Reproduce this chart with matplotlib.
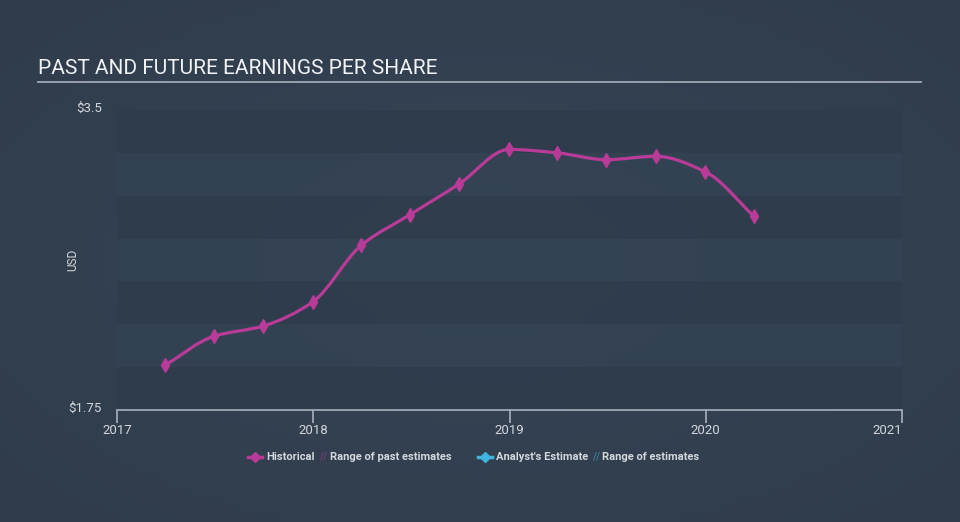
import numpy as np
import pandas as pd
import matplotlib
matplotlib.use('Agg')
import matplotlib.pyplot as plt
from matplotlib.path import Path
from matplotlib.patches import PathPatch
from matplotlib.lines import Line2D

# quarterly EPS (USD)
dates = ['2017-03-31', '2017-06-30', '2017-09-30', '2017-12-31',
         '2018-03-31', '2018-06-30', '2018-09-30', '2018-12-31',
         '2019-03-31', '2019-06-30', '2019-09-30', '2019-12-31',
         '2020-03-31']
eps = [2.01, 2.18, 2.24, 2.38, 2.71, 2.89, 3.07, 3.27, 3.25, 3.21, 3.23, 3.14, 2.88]

year_ticks = [2017, 2018, 2019, 2020, 2021]

bg = '#333f4f'
band_dark = '#2f3c4c'
band_light = '#344354'
hist_color = '#b83b98'
est_color = '#3fb5e0'
text_color = '#d3d7dc'
plt.rcParams['font.family'] = ['Roboto', 'DejaVu Sans']


def to_year(d):
    ts = pd.Timestamp(d)
    start = pd.Timestamp(year=ts.year, month=1, day=1)
    end = pd.Timestamp(year=ts.year + 1, month=1, day=1)
    return ts.year + (ts - start) / (end - start)


x = np.array([to_year(d) for d in dates])
y = np.array(eps)

fig = plt.figure(figsize=(9.6, 5.22), dpi=100, facecolor=bg)

# soft radial background
bgax = fig.add_axes([0, 0, 1, 1], zorder=-10)
gx, gy = np.meshgrid(np.linspace(-1, 1, 200), np.linspace(-1, 1, 110))
r = np.clip(np.sqrt(gx ** 2 + gy ** 2) / 1.4, 0, 1)
c0 = np.array([0x36, 0x45, 0x57]) / 255
c1 = np.array([0x30, 0x3c, 0x4b]) / 255
img = c0[None, None, :] * (1 - r[..., None]) + c1[None, None, :] * r[..., None]
bgax.imshow(img, aspect='auto', extent=[0, 1, 0, 1])
bgax.set_axis_off()

ax = fig.add_axes([117 / 960, 1 - 410 / 522, 785 / 960, 300 / 522])
ax.patch.set_alpha(0)
ax.set_xlim(2017, 2021)
ax.set_ylim(1.75, 3.5)

# horizontal stripes
edges = np.linspace(1.75, 3.5, 8)
for i in range(7):
    col = band_dark if i % 2 == 0 else band_light
    ax.axhspan(edges[i], edges[i + 1], color=col, lw=0, zorder=0, alpha=0.85)

# monotone cubic curve through the points (drawn as bezier segments)
h = np.diff(x)
d = np.diff(y) / h
m = np.zeros(len(x))
m[0], m[-1] = d[0], d[-1]
for i in range(1, len(x) - 1):
    if d[i - 1] * d[i] <= 0:
        m[i] = 0
    else:
        w1 = 2 * h[i] + h[i - 1]
        w2 = h[i] + 2 * h[i - 1]
        m[i] = (w1 + w2) / (w1 / d[i - 1] + w2 / d[i])
verts = [(x[0], y[0])]
codes = [Path.MOVETO]
for i in range(len(x) - 1):
    verts += [(x[i] + h[i] / 3, y[i] + m[i] * h[i] / 3),
              (x[i + 1] - h[i] / 3, y[i + 1] - m[i + 1] * h[i] / 3),
              (x[i + 1], y[i + 1])]
    codes += [Path.CURVE4] * 3
ax.add_patch(PathPatch(Path(verts, codes), fc='none', ec=hist_color, lw=2.3, zorder=3,
                       capstyle='round', joinstyle='round'))
ax.plot(x, y, ls='none', marker='d', ms=7, color=hist_color, mec=hist_color, zorder=4)

for s in ['top', 'right', 'left']:
    ax.spines[s].set_visible(False)
ax.spines['bottom'].set_color('#a9b2bd')
ax.spines['bottom'].set_linewidth(1.2)
ax.set_xticks(year_ticks)
ax.set_xticklabels([str(t) for t in year_ticks])
ax.get_xticklabels()[-1].set_horizontalalignment('right')
ax.tick_params(axis='x', colors='#a9b2bd', length=9, width=1.2, labelcolor=text_color,
               labelsize=9.5, pad=1)
ax.set_yticks([])

# y labels
fig.text(102 / 960, 1 - 108 / 522, '$3.5', ha='right', va='center', color=text_color, fontsize=9.5)
fig.text(102 / 960, 1 - 408 / 522, '$1.75', ha='right', va='center', color=text_color, fontsize=9.5)
fig.text(73 / 960, 1 - 260 / 522, 'USD', rotation=90, ha='center', va='center',
         color=text_color, fontsize=8.5)

# title and rule
fig.text(38 / 960, 1 - 69 / 522, 'PAST AND FUTURE EARNINGS PER SHARE', ha='left', va='center',
         color='#f0f2f4', fontsize=15)
fig.add_artist(Line2D([38 / 960, 921 / 960], [1 - 81.5 / 522] * 2, color='#a0a8b2', lw=1.3))

# legend
ly = 1 - 457 / 522
fig.add_artist(Line2D([248 / 960, 262 / 960], [ly, ly], color=hist_color, lw=2.5))
fig.add_artist(Line2D([255 / 960], [ly], marker='D', ms=5.5, color=hist_color, ls='none'))
fig.text(266 / 960, ly, 'Historical', ha='left', va='center', color=text_color, fontsize=8,
         weight='bold')
fig.text(320 / 960, ly, '//', ha='left', va='center', color=hist_color, fontsize=7, alpha=0.7)
fig.text(330 / 960, ly, 'Range of past estimates', ha='left', va='center', color=text_color,
         fontsize=8, weight='bold')
fig.add_artist(Line2D([478 / 960, 492 / 960], [ly, ly], color=est_color, lw=2.5))
fig.add_artist(Line2D([485 / 960], [ly], marker='D', ms=5.5, color=est_color, ls='none'))
fig.text(496 / 960, ly, "Analyst's Estimate", ha='left', va='center', color=text_color,
         fontsize=8, weight='bold')
fig.text(593 / 960, ly, '//', ha='left', va='center', color=est_color, fontsize=7, alpha=0.7)
fig.text(602 / 960, ly, 'Range of estimates', ha='left', va='center', color=text_color,
         fontsize=8, weight='bold')

fig.savefig('out.png', dpi=100, facecolor=bg)
